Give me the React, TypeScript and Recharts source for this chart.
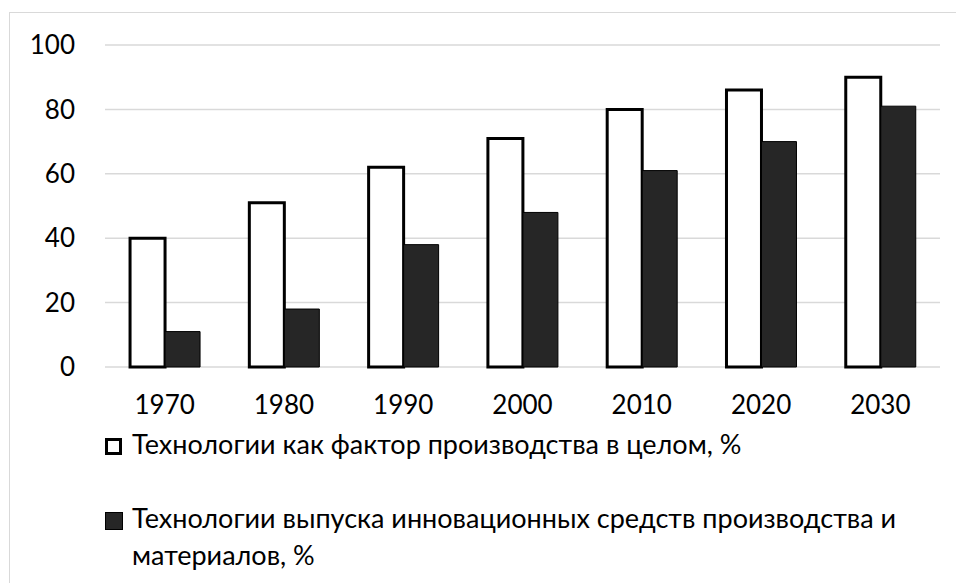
import React from 'react';
import { BarChart, Bar, XAxis, YAxis, CartesianGrid } from 'recharts';

const years = ['1970', '1980', '1990', '2000', '2010', '2020', '2030'];
const techOverall = [40, 51, 62, 71, 80, 86, 90];
const techInnovative = [11, 18, 38, 48, 61, 70, 81];
const yTicks = [0, 20, 40, 60, 80, 100];
const seriesNames = [
  'Технологии как фактор производства в целом, %',
  'Технологии выпуска инновационных средств производства и материалов, %',
];

const data = years.map((y, i) => ({ year: y, a: techOverall[i], b: techInnovative[i] }));

const FONT = 'Lato, "Open Sans", sans-serif';

function ChartLegend() {
  return (
    <div style={{ position: 'absolute', left: 0, top: 425, width: 956, height: 150, fontFamily: FONT, fontSize: 27, color: '#000' }}>
      <div style={{ position: 'absolute', left: 105, top: 13, width: 11, height: 11, border: '3px solid #000', background: '#fff' }} />
      <div style={{ position: 'absolute', left: 132, top: 0, whiteSpace: 'nowrap', lineHeight: '37px' }}>{seriesNames[0]}</div>
      <div style={{ position: 'absolute', left: 105, top: 87, width: 16, height: 16, border: '1px solid #000', background: '#262626' }} />
      <div style={{ position: 'absolute', left: 132, top: 74, width: 790, lineHeight: '37px' }}>{seriesNames[1]}</div>
    </div>
  );
}

export default function App() {
  return (
    <div style={{ position: 'absolute', left: 0, top: 0, width: 956, height: 583, background: '#fff', overflow: 'hidden' }}>
      <div style={{ position: 'absolute', left: 9, top: 12, width: 1000, height: 1000, borderLeft: '1.5px solid #d9d9d9', borderTop: '1.5px solid #d9d9d9' }} />
      <div style={{ position: 'absolute', left: 0, top: 0 }}>
        <BarChart width={956} height={583} data={data} margin={{ top: 45, right: 16, left: 0, bottom: 186 }} barCategoryGap="21%" barGap={0}>
          <CartesianGrid vertical={false} stroke="#d9d9d9" strokeWidth={1.5} />
          <XAxis dataKey="year" height={30} axisLine={false} tickLine={false} tickSize={0} tickMargin={29} tick={{ fill: '#000', fontSize: 26, fontFamily: FONT }} interval={0} />
          <YAxis width={105} domain={[0, 100]} ticks={yTicks} interval={0} axisLine={false} tickLine={false} tickSize={0} tickMargin={30} tick={{ fill: '#000', fontSize: 26, fontFamily: FONT }} />
          <Bar dataKey="a" name={seriesNames[0]} fill="#ffffff" stroke="#000" strokeWidth={3} isAnimationActive={false} />
          <Bar dataKey="b" name={seriesNames[1]} fill="#262626" stroke="#000" strokeWidth={1} isAnimationActive={false} />
        </BarChart>
      </div>
      <ChartLegend />
    </div>
  );
}
